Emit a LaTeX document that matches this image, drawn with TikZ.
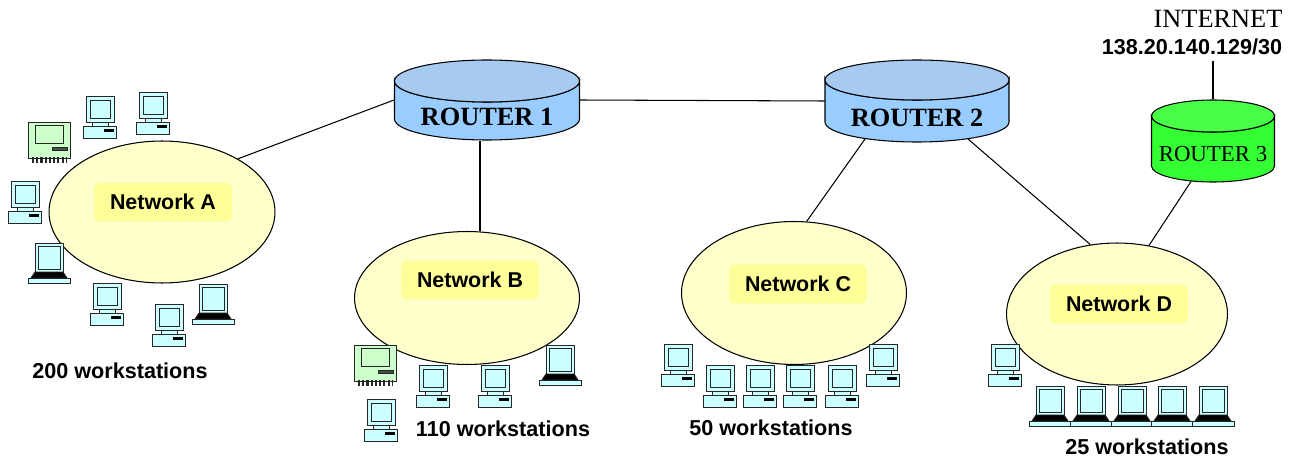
\documentclass[tikz,border=0pt]{standalone}
\usepackage{fontspec}
\setmainfont{Liberation Serif}
\newfontfamily\arialfont{Liberation Sans}
\usepackage{tikz}
\usetikzlibrary{calc,shapes.geometric}
\definecolor{lanyellow}{HTML}{FFFFCC}
\definecolor{tagyellow}{HTML}{FFFF99}
\definecolor{rtside}{HTML}{99CCFF}
\definecolor{rttop}{HTML}{A6CAF0}
\definecolor{gwside}{HTML}{33FF33}
\definecolor{gwtop}{HTML}{47FF47}
\definecolor{pcblue}{HTML}{CCFFFF}
\definecolor{macgreen}{HTML}{CCFFCC}
\def\drum#1#2(#3)(#4:#5:#6){%
	\draw[fill=#1] ($(#3)+(-#4,-#6)$) -- ($(#3)+(-#4,#6)$) arc (180:0:#4 and #5) -- ($(#3)+(#4,-#6)$) arc (0:180:#4 and #5) -- cycle;
	\draw[fill=#2] ($(#3)+(0,-#6)$) ellipse (#4 and #5);}
\def\desktop(#1){\begin{scope}[shift={(#1)}, pcline]
	\draw[fill=pcblue] (-14,-21) rectangle (14,5);
	\draw[fill=pcblue] (-10,-17) rectangle (10,1);
	\draw[fill=pcblue] (-8,5) rectangle (8,9);
	\draw[fill=pcblue] (-16.5,9) rectangle (16.5,21);
	\fill (4,12) rectangle (14,15);
	\end{scope}}
\def\mac(#1){\begin{scope}[shift={(#1)}, pcline]
	\draw[fill=macgreen] (-21,-20) rectangle (21,16);
	\draw[fill=macgreen] (-14,-17) rectangle (14,1);
	\draw[fill=black!70] (3,5) rectangle (18,8);
	\draw[line width=3.5, dash pattern=on 1.2pt off 1.2pt] (-17,18) -- (17,18);
	\end{scope}}
\def\laptop(#1){\begin{scope}[shift={(#1)}, pcline]
	\draw[fill=pcblue] (-14,-20) rectangle (14,9);
	\draw[fill=pcblue] (-11,-17) rectangle (11,6);
	\draw[fill=black] (-14,9) -- (14,9) -- (18,15) -- (-18,15) -- cycle;
	\draw[fill=pcblue] (-21,15) rectangle (21,20);
	\end{scope}}

\begin{document}
\begin{tikzpicture}[x=0.02cm, y=-0.02cm, line width=0.6pt,
		netcloud/.style={ellipse, draw, fill=lanyellow, inner sep=0pt},
		nettag/.style={rectangle, rounded corners=3pt, fill=tagyellow, minimum width=2.76cm, minimum height=0.78cm, font=\arialfont\bfseries\fontsize{12.2}{14}\selectfont},
		router/.style={rectangle, inner sep=0pt, text height=30pt, text depth=0.6pt, font=\bfseries\fontsize{15}{17}\selectfont},
		gateway/.style={rectangle, inner sep=0pt, text height=23.4pt, text depth=0.6pt, font=\fontsize{13}{15}\selectfont},
		hosts/.style={font=\arialfont\bfseries\fontsize{12.3}{14}\selectfont},
		pcline/.style={line width=0.5pt, draw=black!85}]
		%%%%% START %%%%%
		\useasboundingbox (0,0) rectangle (1297,459);
		
		% networks
		\node[netcloud, minimum width=4.52cm, minimum height=2.84cm] (na) at (162,212) {};
		\node[netcloud, minimum width=4.5cm, minimum height=2.66cm] (nb) at (467,298) {};
		\node[netcloud, minimum width=4.5cm, minimum height=2.86cm] (nc) at (794,293) {};
		\node[netcloud, minimum width=4.42cm, minimum height=2.84cm] (nd) at (1117,314) {};
		
		\node[nettag] (ta) at (163,202) {Network A};
		\node[nettag] (tb) at (470,280) {Network B};
		\node[nettag] (tc) at (798,284) {Network C};
		\node[nettag] (td) at (1119,304) {Network D};
		
		% routers
		\drum{rtside}{rttop}(487,100)(92.5:21:19)
		\node[router, minimum width=3.7cm, minimum height=1.6cm] (r1) at (487,100) {ROUTER 1};
		\drum{rtside}{rttop}(917,101)(92:20:21)
		\node[router, minimum width=3.68cm, minimum height=1.64cm] (r2) at (917,101) {ROUTER 2};
		\drum{gwside}{gwtop}(1213,141)(61.5:16:25)
		\node[gateway, minimum width=2.46cm, minimum height=1.64cm] (r3) at (1213,141) {ROUTER 3};
		
		\node[font=\fontsize{15}{17}\selectfont] (inet) at (1218,19) {INTERNET};
		\node[hosts] (ip) at (1192,47) {138.20.140.129/30};
		
		% links
		\draw (r1.west) -- (na.35);
		\draw (r1.east) -- (r2.west);
		\draw ($(r1.south)+(-7,0)$) -- ($(r1.south |- nb.north)+(-7,0)$);
		\draw ($(r2.south)+(-52,-3.5)$) -- (nc.80);
		\draw ($(r2.south)+(51,-3.5)$) -- (nd.111);
		\draw ($(r3.south)+(-22,-1)$) -- (nd.65);
		\draw (ip.south -| r3.north) -- (r3.north);
		
		% network A hosts
		\desktop(100,117)
		\desktop(153,113)
		\mac(49,142)
		\desktop(25,202)
		\laptop(49,263)
		\desktop(107,304)
		\desktop(169,325)
		\laptop(213,304)
		
		% network B hosts
		\mac(375,365)
		\desktop(433,386)
		\desktop(495,386)
		\laptop(560,365)
		\desktop(381,420)
		
		% network C hosts
		\desktop(678,365)
		\desktop(720,386)
		\desktop(760,386)
		\desktop(800,386)
		\desktop(842,386)
		\desktop(883,365)
		
		% network D hosts
		\desktop(1005,365)
		\laptop(1050,406)
		\laptop(1091,406)
		\laptop(1132,406)
		\laptop(1172,406)
		\laptop(1213,406)
		
		\node[hosts] (wa) at (120,371) {200 workstations};
		\node[hosts] (wb) at (503,429) {110 workstations};
		\node[hosts] (wc) at (771,428) {50 workstations};
		\node[hosts] (wd) at (1147,447) {25 workstations};
		
		%%%%% END %%%%%
	\end{tikzpicture}
\end{document}
